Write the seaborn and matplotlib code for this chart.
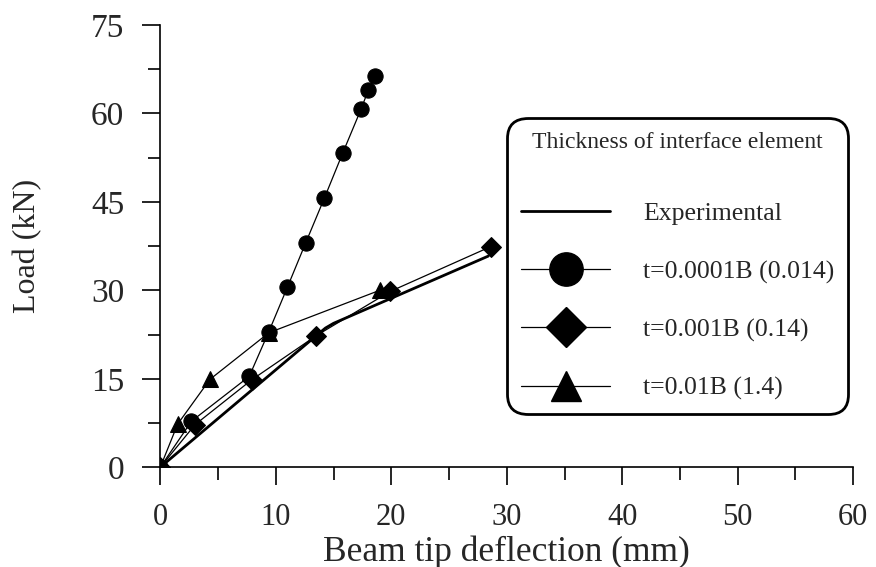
import matplotlib
matplotlib.use('Agg')
import matplotlib.pyplot as plt
import seaborn as sns
from matplotlib.lines import Line2D
from matplotlib.ticker import MultipleLocator

# Experimental curve
exp_x = [0.0, 13.5, 14.3, 15.0, 28.4]
exp_y = [0.0, 22.3, 23.6, 24.4, 35.8]

# t=0.0001B (0.014)
t1_x = [0.0, 2.7, 7.7, 9.4, 11.0, 12.6, 14.2, 15.8, 17.4, 18.0, 18.6]
t1_y = [0.0, 7.8, 15.4, 23.0, 30.5, 38.1, 45.6, 53.3, 60.8, 63.9, 66.4]

# t=0.001B (0.14)
t2_x = [0.0, 3.0, 7.9, 13.5, 19.9, 28.6]
t2_y = [0.0, 7.2, 14.8, 22.3, 29.8, 37.4]

# t=0.01B (1.4)
t3_x = [0.0, 1.5, 4.3, 9.4, 19.0]
t3_y = [0.0, 7.3, 14.9, 22.8, 30.0]

labels = ['Experimental', 't=0.0001B (0.014)', 't=0.001B (0.14)', 't=0.01B (1.4)']

sns.set_theme(style='ticks')
plt.rcParams['font.family'] = ['Liberation Serif', 'DejaVu Serif']

fig = plt.figure(figsize=(8.76, 5.67), dpi=100)
ax = fig.add_axes([0.183, 0.176, 0.791, 0.780])

sns.lineplot(x=exp_x, y=exp_y, ax=ax, color='black', linewidth=2.0, sort=False)
sns.lineplot(x=t1_x, y=t1_y, ax=ax, color='black', linewidth=0.9, marker='o',
             markersize=11, markeredgecolor='black', sort=False)
sns.lineplot(x=t2_x, y=t2_y, ax=ax, color='black', linewidth=0.9, marker='D',
             markersize=10, markeredgecolor='black', sort=False)
sns.lineplot(x=t3_x, y=t3_y, ax=ax, color='black', linewidth=0.9, marker='^',
             markersize=11, markeredgecolor='black', sort=False)

ax.set_xlim(0, 60)
ax.set_ylim(0, 75)
ax.xaxis.set_major_locator(MultipleLocator(10))
ax.xaxis.set_minor_locator(MultipleLocator(5))
ax.yaxis.set_major_locator(MultipleLocator(15))
ax.yaxis.set_minor_locator(MultipleLocator(7.5))
for s in ['top', 'right']:
    ax.spines[s].set_visible(False)
for s in ['left', 'bottom']:
    ax.spines[s].set_linewidth(1.2)
    ax.spines[s].set_color('black')
ax.tick_params(axis='both', which='major', length=13, width=1.2, color='black',
               labelsize=24, direction='out')
ax.tick_params(axis='both', which='minor', length=9, width=1.2, color='black', direction='out')
ax.tick_params(axis='x', which='major', pad=13, labelsize=22)
ax.tick_params(axis='y', which='major', pad=13)

ax.set_xlabel('Beam tip deflection (mm)', fontsize=25.5, labelpad=2)
ax.set_ylabel('Load (kN)', fontsize=23, labelpad=35)

handles = [
    Line2D([], [], color='black', linewidth=2.0),
    Line2D([], [], color='black', linewidth=0.9, marker='o', markersize=24),
    Line2D([], [], color='black', linewidth=0.9, marker='D', markersize=20),
    Line2D([], [], color='black', linewidth=0.9, marker='^', markersize=22),
]
leg = ax.legend(handles, labels, title='Thickness of interface element\n',
                loc='upper right', bbox_to_anchor=(0.993, 0.79), borderaxespad=0,
                fontsize=18.5, title_fontsize=17, frameon=True, fancybox=True,
                framealpha=1, edgecolor='black', handlelength=3.46,
                handletextpad=1.28, labelspacing=1.36, borderpad=0.55)
leg.get_title().set_linespacing(0.58)
leg.get_frame().set_linewidth(2.0)
leg.get_frame().set_boxstyle('round,pad=0.0,rounding_size=0.8')
leg.set_zorder(10)

fig.savefig('out.png', dpi=100)
